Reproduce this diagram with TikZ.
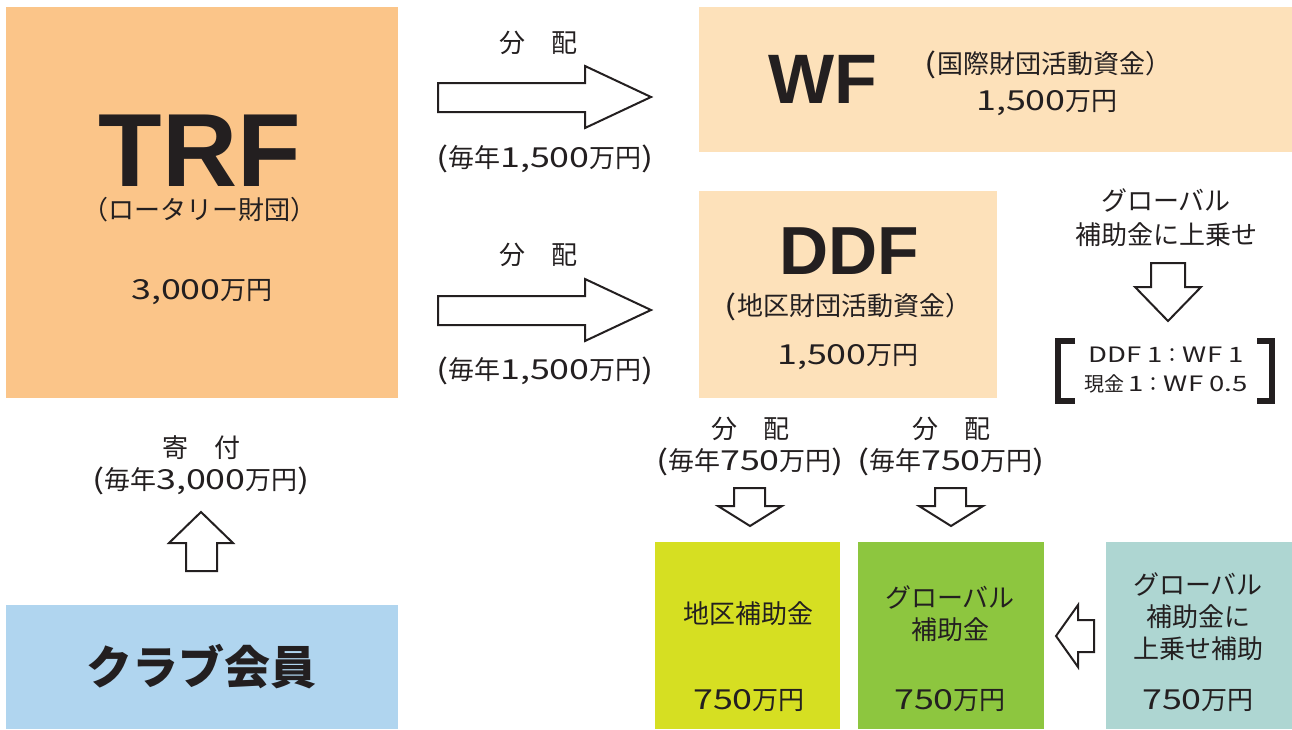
\documentclass[tikz,border=0pt]{standalone}
\usepackage{fontspec}
\setmainfont{Noto Sans CJK JP}
\newfontfamily\latbold{Liberation Sans}[BoldFont={Liberation Sans Bold}]
\newfontfamily\dg{Noto Sans CJK JP}[Scale=1.06,FakeStretch=1.3]
\definecolor{ink}{HTML}{231F20}
\definecolor{trfc}{HTML}{FBC589}
\definecolor{fundc}{HTML}{FDE1BA}
\definecolor{clubc}{HTML}{B0D5EF}
\definecolor{distc}{HTML}{D6DF22}
\definecolor{globc}{HTML}{8DC63F}
\definecolor{tealc}{HTML}{AED6D2}
\begin{document}
\begin{tikzpicture}[x=1pt,y=-1pt,
  box/.style={inner sep=0pt, outer sep=0pt, anchor=north west},
  txt/.style={text=ink, inner sep=0pt, align=center, font=\fontsize{26}{32}\selectfont},
  small/.style={text=ink, inner sep=0pt, align=center, font=\fontsize{20}{29}\selectfont},
  big/.style={text=ink, inner sep=0pt, anchor=base},
  blockarrow/.style={draw=ink, fill=white, line width=2pt, line join=miter},
  bracket/.style={draw=ink, line width=6pt, line join=miter}
]
\useasboundingbox (0,0) rectangle (1292,729);
% boxes
\node[box, fill=trfc, minimum width=392pt, minimum height=391pt] (trf) at (6,7) {};
\node[box, fill=fundc, minimum width=593pt, minimum height=145pt] (wf) at (699,7) {};
\node[box, fill=fundc, minimum width=298pt, minimum height=207pt] (ddf) at (699,191) {};
\node[box, fill=clubc, minimum width=392pt, minimum height=124pt] (club) at (6,605) {};
\node[box, fill=distc, minimum width=185pt, minimum height=187pt] (dist) at (655,542) {};
\node[box, fill=globc, minimum width=186pt, minimum height=187pt] (glob) at (858,542) {};
\node[box, fill=tealc, minimum width=186pt, minimum height=187pt] (teal) at (1106,542) {};

% TRF texts
\node[big, font=\latbold\bfseries\fontsize{104}{110}\selectfont] (trft) at (200,186) {TRF};
\node[txt] (trfs) at (199,210) {（ロータリー財団）};
\node[txt] (trfm) at (202,292) {{\dg 3,000}万円};

% WF texts
\node[big, font=\latbold\bfseries\fontsize{70}{76}\selectfont] (wft) at (823,103) {WF};
\node[txt] (wfs) at (1048,65) {{\dg(}国際財団活動資金）};
\node[txt] (wfm) at (1047,103) {{\dg 1,500}万円};

% DDF texts
\node[big, font=\latbold\bfseries\fontsize{68}{74}\selectfont] (ddft) at (849,274) {DDF};
\node[txt] (ddfs) at (848,307) {{\dg(}地区財団活動資金）};
\node[txt] (ddfm) at (848,357) {{\dg 1,500}万円};

% arrows TRF -> WF, DDF
\node[txt] (l1a) at (538,43) {分　配};
\node[txt] (l1b) at (545,159) {{\dg(}毎年{\dg 1,500}万円{\dg)}};
\draw[blockarrow] (438,83) -- (585,83) -- (585,66) -- (651,97) -- (585,128) -- (585,112) -- (438,112) -- cycle;
\node[txt] (l2a) at (538,255) {分　配};
\node[txt] (l2b) at (545,371) {{\dg(}毎年{\dg 1,500}万円{\dg)}};
\draw[blockarrow] (438,296) -- (585,296) -- (585,279) -- (651,310) -- (585,341) -- (585,325) -- (438,325) -- cycle;

% global top-up note
\node[txt, font=\fontsize{26}{34}\selectfont] (gnote) at (1166,218) {グローバル\\補助金に上乗せ};
\draw[blockarrow] (1151,263) -- (1185,263) -- (1185,287) -- (1201,287) -- (1168,321) -- (1135,287) -- (1151,287) -- cycle;
\draw[bracket] (1075,341) -- (1058,341) -- (1058,401) -- (1075,401);
\draw[bracket] (1257,341) -- (1272,341) -- (1272,401) -- (1257,401);
\node[small] (ratio) at (1166,370) {{\dg DDF~1}：{\dg WF~1}\\現金~{\dg 1}：{\dg WF~0.5}};

% DDF distribution
\node[txt] (d1) at (750,447) {分　配\\{\dg(}毎年{\dg 750}万円{\dg)}};
\draw[blockarrow] (734,488) -- (765,488) -- (765,506) -- (782,506) -- (750,526) -- (718,506) -- (734,506) -- cycle;
\node[txt] (d2) at (951,447) {分　配\\{\dg(}毎年{\dg 750}万円{\dg)}};
\draw[blockarrow] (935,488) -- (966,488) -- (966,506) -- (983,506) -- (951,526) -- (919,506) -- (935,506) -- cycle;

% bottom boxes text
\node[txt] (distt) at (748,614) {地区補助金};
\node[txt] (distm) at (749,701) {{\dg 750}万円};
\node[txt] (globt) at (950,614) {グローバル\\補助金};
\node[txt] (globm) at (950,701) {{\dg 750}万円};
\node[txt] (tealt) at (1198,617) {グローバル\\補助金に\\上乗せ補助};
\node[txt] (tealm) at (1198,701) {{\dg 750}万円};
\draw[blockarrow] (1094,620) -- (1094,652) -- (1078,652) -- (1078,667) -- (1056,636) -- (1078,605) -- (1078,620) -- cycle;

% donation
\node[txt] (don) at (201,465) {寄　付\\{\dg(}毎年{\dg 3,000}万円{\dg)}};
\draw[blockarrow] (186,571) -- (186,543) -- (169,543) -- (201,512) -- (233,543) -- (217,543) -- (217,571) -- cycle;
\node[txt, font=\bfseries\fontsize{46}{50}\selectfont] (clubt) at (201,667) {クラブ会員};
\end{tikzpicture}
\end{document}
